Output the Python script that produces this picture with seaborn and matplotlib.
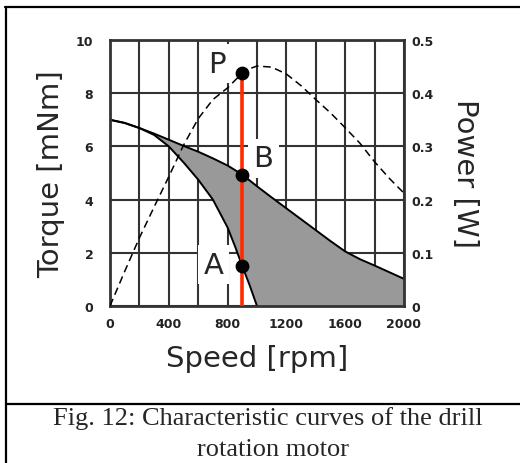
import matplotlib
matplotlib.use("Agg")
import matplotlib.pyplot as plt
import seaborn as sns
import pandas as pd

# Motor characteristic curves
speed = [0, 100, 200, 300, 400, 500, 600, 700, 800, 850, 900, 950, 1000,
         1100, 1200, 1300, 1400, 1500, 1600, 1700, 1800, 1900, 2000]
torque_high = [7.0, 6.88, 6.69, 6.48, 6.25, 6.02, 5.8, 5.55, 5.28, 5.11, 4.93, 4.72, 4.5,
               4.08, 3.67, 3.26, 2.85, 2.44, 2.05, 1.76, 1.52, 1.27, 1.02]
torque_low = [7.0, 6.88, 6.69, 6.43, 6.0, 5.4, 4.75, 4.0, 2.95, 2.25, 1.5, 0.78, 0.0,
              0.0, 0.0, 0.0, 0.0, 0.0, 0.0, 0.0, 0.0, 0.0, 0.0]
power = [0.0, 0.065, 0.128, 0.186, 0.243, 0.302, 0.352, 0.388, 0.41, 0.424, 0.437, 0.446, 0.451,
         0.449, 0.436, 0.414, 0.388, 0.363, 0.335, 0.306, 0.271, 0.24, 0.212]

# operating point
op_speed = 900
op_power = 0.437
op_torque_b = 4.93
op_torque_a = 1.5

point_labels = ['P', 'B', 'A']
label_speed = [725, 1045, 705]
label_torque = [9.1, 5.55, 1.55]

x_ticks = list(range(0, 2001, 200))
x_ticklabels = ['0', '', '400', '', '800', '', '1200', '', '1600', '', '2000']
torque_ticks = [0, 2, 4, 6, 8, 10]
power_ticks = [0, 0.1, 0.2, 0.3, 0.4, 0.5]
power_ticklabels = ['0', '0.1', '0.2', '0.3', '0.4', '0.5']

df = pd.DataFrame({'speed': speed, 'high': torque_high, 'low': torque_low, 'power': power})

sns.set_style("white")
plt.rcParams['font.family'] = ['DejaVu Sans']

fig = plt.figure(figsize=(5.2, 4.64), dpi=100)
ax = fig.add_axes([0.2115, 0.3384, 0.5654, 0.5733])

# shaded working area
ax.fill_between(df['speed'], df['low'], df['high'], color='#999999', linewidth=0, zorder=1)
sns.lineplot(data=df, x='speed', y='high', color='black', linewidth=1.4, ax=ax, zorder=2)
sns.lineplot(data=df[df['speed'] <= 1000], x='speed', y='low', color='black', linewidth=1.4,
             ax=ax, zorder=2)

ax.set_xlim(0, 2000)
ax.set_ylim(0, 10)
ax.set_xticks(x_ticks)
ax.set_xticklabels(x_ticklabels)
ax.set_yticks(torque_ticks)
ax.grid(True, color='#333333', linewidth=1.5)
ax.set_axisbelow(True)
for s in ax.spines.values():
    s.set_color('#333333')
    s.set_linewidth(2)
ax.tick_params(length=0, labelsize=9)
ax.tick_params(axis='y', pad=12)
ax.tick_params(axis='x', pad=8)
for t in ax.get_xticklabels() + ax.get_yticklabels():
    t.set_fontweight('bold')
    t.set_color('#222222')

ax.set_xlabel('Speed [rpm]', fontsize=21, labelpad=10)
ax.set_ylabel('Torque [mNm]', fontsize=21, labelpad=8)

for lab, sx, ty in zip(point_labels, label_speed, label_torque):
    ax.text(sx, ty, lab, fontsize=21, ha='center', va='center', zorder=3,
            bbox=dict(facecolor='white', edgecolor='none', pad=4))

# power curve on the right axis
ax2 = ax.twinx()
sns.lineplot(data=df, x='speed', y='power', color='black', linewidth=1.1,
             linestyle=(0, (5, 3)), ax=ax2)
ax2.set_ylim(0, 0.5)
ax2.set_yticks(power_ticks)
ax2.set_yticklabels(power_ticklabels)
ax2.tick_params(length=0, labelsize=9, pad=5)
for t in ax2.get_yticklabels():
    t.set_fontweight('bold')
    t.set_color('#222222')
for s in ax2.spines.values():
    s.set_visible(False)
ax2.set_ylabel('Power [W]', fontsize=21, rotation=-90, labelpad=33)

# operating point line and markers
ax2.plot([op_speed, op_speed], [0, op_power], color='#ff2a00', linewidth=2.6, zorder=4)
ax2.scatter([op_speed], [op_power], s=80, color='black', zorder=5)
ax2.scatter([op_speed, op_speed], [op_torque_b / 20, op_torque_a / 20], s=80, color='black',
            zorder=5)

# figure frame and caption
fig.add_artist(plt.Line2D([0.0096, 1.0], [0.9828, 0.9828], color='black', linewidth=1.6,
                          transform=fig.transFigure))
fig.add_artist(plt.Line2D([0.0115, 0.0115], [0.0, 0.9828], color='black', linewidth=1.6,
                          transform=fig.transFigure))
fig.add_artist(plt.Line2D([0.0115, 1.0], [0.1272, 0.1272], color='black', linewidth=1.6,
                          transform=fig.transFigure))
fig.text(0.515, 0.0991, 'Fig. 12: Characteristic curves of the drill', fontsize=19,
         family='Liberation Serif', ha='center', va='center')
fig.text(0.525, 0.030, 'rotation motor', fontsize=19, family='Liberation Serif',
         ha='center', va='center')

fig.savefig('out.png', dpi=100)
